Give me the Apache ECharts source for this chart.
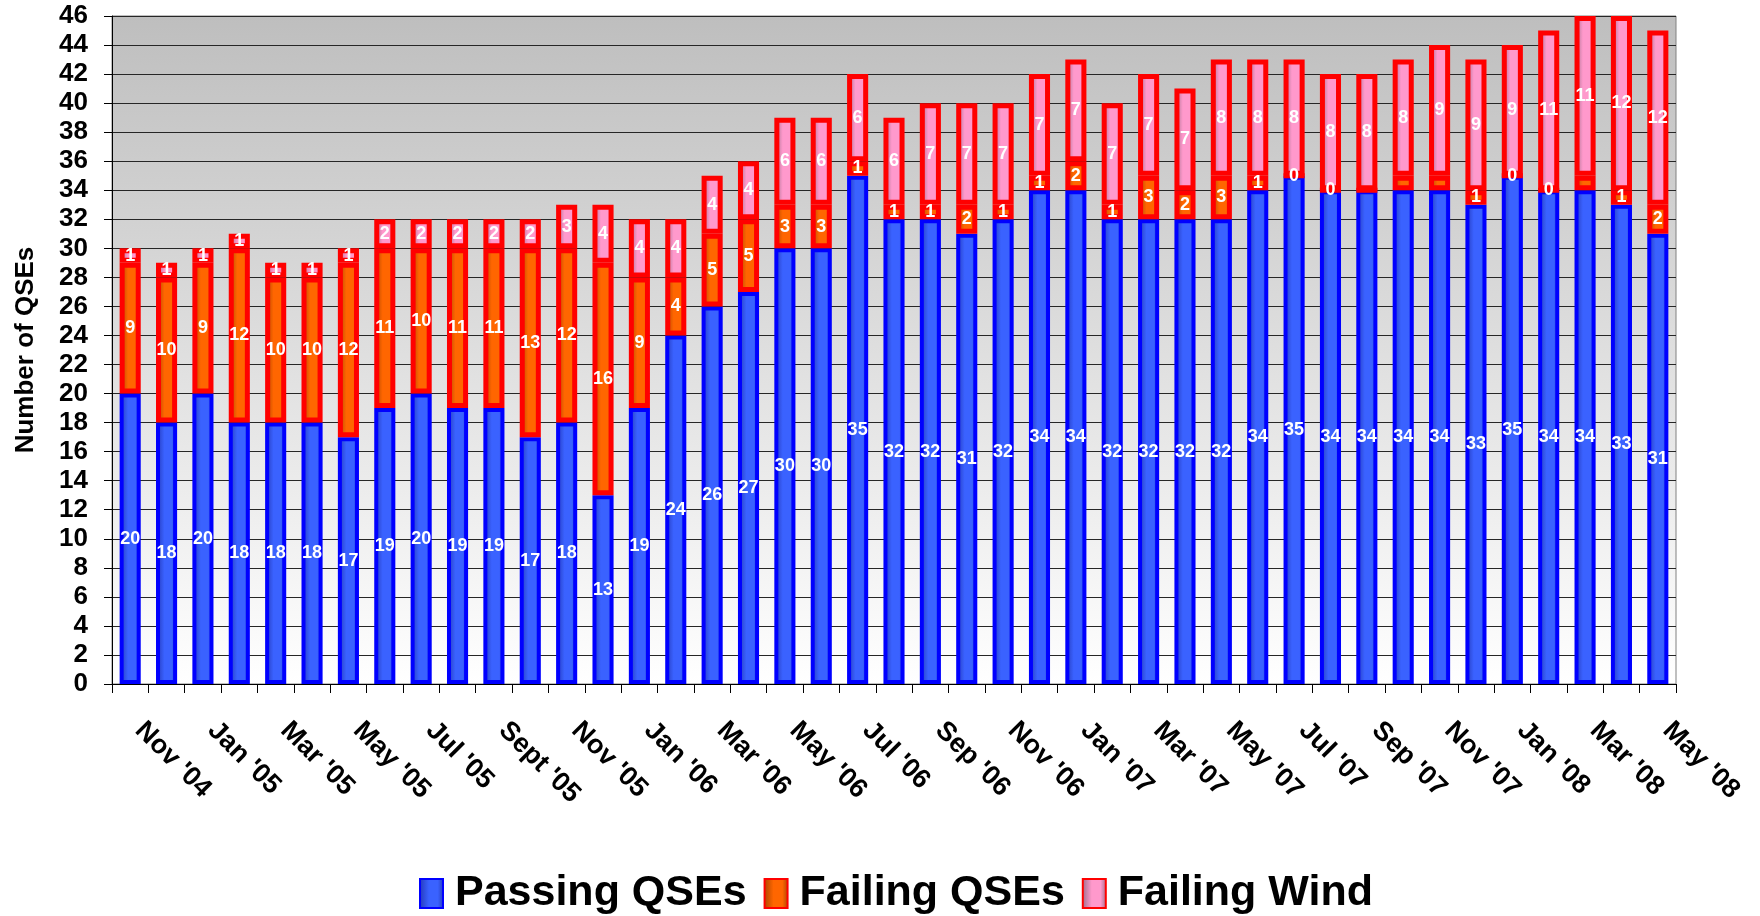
<!DOCTYPE html>
<html>
<head>
<meta charset="utf-8">
<title>QSE monthly results</title>
<script src="https://cdn.jsdelivr.net/npm/echarts@6/dist/echarts.min.js"></script>
<style>
  html, body { margin: 0; padding: 0; background: #fff; }
  #chart { width: 1760px; height: 916px; }
</style>
</head>
<body>
<div id="chart"></div>
<script>
// one category per month, Nov '04 .. May '08 (only every other one gets a label)
const months = [
  "Nov '04", "Dec '04", "Jan '05", "Feb '05", "Mar '05", "Apr '05", "May '05", "Jun '05",
  "Jul '05", "Aug '05", "Sept '05", "Oct '05", "Nov '05", "Dec '05", "Jan '06", "Feb '06",
  "Mar '06", "Apr '06", "May '06", "Jun '06", "Jul '06", "Aug '06", "Sep '06", "Oct '06",
  "Nov '06", "Dec '06", "Jan '07", "Feb '07", "Mar '07", "Apr '07", "May '07", "Jun '07",
  "Jul '07", "Aug '07", "Sep '07", "Oct '07", "Nov '07", "Dec '07", "Jan '08", "Feb '08",
  "Mar '08", "Apr '08", "May '08"
]

const passingQSEs = [
  20, 18, 20, 18, 18, 18, 17, 19, 20, 19, 19, 17, 18, 13, 19, 24, 26, 27, 30, 30, 35, 32,
  32, 31, 32, 34, 34, 32, 32, 32, 32, 34, 35, 34, 34, 34, 34, 33, 35, 34, 34, 33, 31
]
const failingQSEs = [
  9, 10, 9, 12, 10, 10, 12, 11, 10, 11, 11, 13, 12, 16, 9, 4, 5, 5, 3, 3, 1, 1,
  1, 2, 1, 1, 2, 1, 3, 2, 3, 1, 0, 0, 0, 1, 1, 1, 0, 0, 1, 1, 2
]
const failingWind = [
  1, 1, 1, 1, 1, 1, 1, 2, 2, 2, 2, 2, 3, 4, 4, 4, 4, 4, 6, 6, 6, 6,
  7, 7, 7, 7, 7, 7, 7, 7, 8, 8, 8, 8, 8, 8, 9, 9, 9, 11, 11, 12, 12
]
// segments whose value label is not printed in the original
const failingQSEsNoLabel = [34, 35, 36, 40]

const font = "'Liberation Sans', Arial, sans-serif"

function barFill(edge, mid) {
  return {
    type: 'linear', x: 0, y: 0, x2: 1, y2: 0,
    colorStops: [
      { offset: 0, color: edge },
      { offset: 0.4, color: mid },
      { offset: 0.75, color: mid },
      { offset: 1, color: edge }
    ]
  }
}

const valueLabel = {
  show: true,
  position: 'inside',
  color: '#fff',
  fontFamily: font,
  fontWeight: 'bold',
  fontSize: 18
}

const chart = echarts.init(document.getElementById('chart'))

chart.setOption({
  animation: false,
  textStyle: { fontFamily: font },
  grid: {
    left: 112, right: 84, top: 16, bottom: 232,
    show: true,
    borderColor: '#808080',
    borderWidth: 1,
    backgroundColor: {
      type: 'linear', x: 0, y: 0, x2: 0, y2: 1,
      colorStops: [
        { offset: 0, color: '#bebebe' },
        { offset: 1, color: '#ffffff' }
      ]
    }
  },
  legend: {
    left: 414,
    top: 867,
    icon: 'rect',
    itemWidth: 23,
    itemHeight: 29,
    itemGap: 17,
    textStyle: {
      color: '#000', fontFamily: font, fontWeight: 'bold', fontSize: 43,
      padding: [0, 0, 0, 7]
    },
    data: ['Passing QSEs', 'Failing QSEs', 'Failing Wind']
  },
  xAxis: {
    type: 'category',
    data: months,
    axisLine: { lineStyle: { color: '#000', width: 1 } },
    axisTick: { show: true, interval: 0, length: 9, lineStyle: { color: '#000' } },
    axisLabel: {
      interval: 1,
      rotate: -45,
      margin: 33,
      padding: [0, 0, 26, 13],
      color: '#000',
      fontFamily: font,
      fontWeight: 'bold',
      fontSize: 27
    }
  },
  yAxis: {
    type: 'value',
    min: 0,
    max: 46,
    interval: 2,
    name: 'Number of QSEs',
    nameLocation: 'middle',
    nameGap: 73,
    nameTextStyle: { color: '#000', fontFamily: font, fontWeight: 'bold', fontSize: 26 },
    axisLine: { show: true, lineStyle: { color: '#000', width: 1 } },
    axisTick: { show: true, length: 8, lineStyle: { color: '#000' } },
    axisLabel: { margin: 24, color: '#000', fontFamily: font, fontWeight: 'bold', fontSize: 26 },
    splitLine: { lineStyle: { color: '#262626', width: 1 } }
  },
  series: [
    {
      name: 'Passing QSEs',
      type: 'bar',
      stack: 'total',
      barWidth: '58%',
      data: passingQSEs,
      label: valueLabel,
      itemStyle: { color: barFill('#2438b8', '#3a62ff'), borderColor: '#0000ff', borderWidth: 4 }
    },
    {
      name: 'Failing QSEs',
      type: 'bar',
      stack: 'total',
      data: failingQSEs.map((v, i) =>
        failingQSEsNoLabel.includes(i) ? { value: v, label: { show: false } } : v),
      label: valueLabel,
      itemStyle: { color: barFill('#a84400', '#ff6600'), borderColor: '#ff0000', borderWidth: 5 }
    },
    {
      name: 'Failing Wind',
      type: 'bar',
      stack: 'total',
      data: failingWind,
      label: valueLabel,
      itemStyle: { color: barFill('#9a6c88', '#ff99cc'), borderColor: '#ff0000', borderWidth: 5 }
    }
  ]
})

window.addEventListener('resize', () => chart.resize())
</script>
</body>
</html>
